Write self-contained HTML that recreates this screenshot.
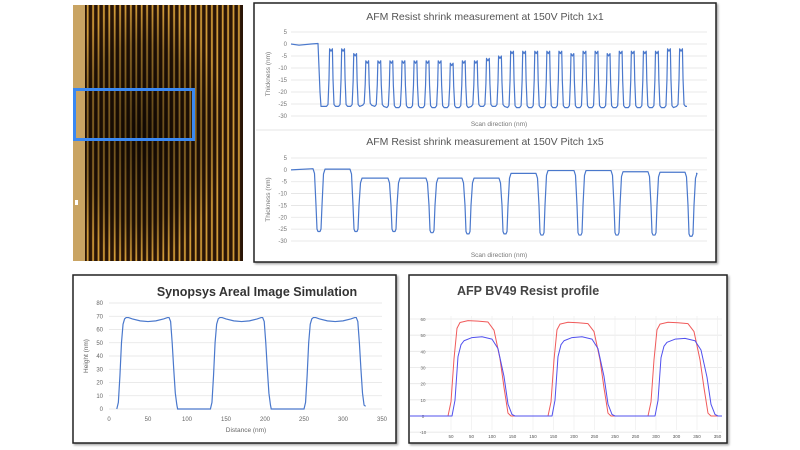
<!DOCTYPE html>
<html><head><meta charset="utf-8"><style>
html,body{margin:0;padding:0;background:#fff;width:800px;height:450px;overflow:hidden;font-family:"Liberation Sans",sans-serif}
</style></head><body>
<svg id="s" width="800" height="450" viewBox="0 0 800 450" xmlns="http://www.w3.org/2000/svg">
<defs>
<pattern id="stripes" x="85" y="0" width="5.4" height="10" patternUnits="userSpaceOnUse">
<rect width="5.4" height="10" fill="#2a1506"/><rect x="1.8" width="1.8" height="10" fill="#d09a38"/>
</pattern>
<radialGradient id="vig" cx="0.4" cy="0.5" r="0.5"><stop offset="0" stop-color="#000" stop-opacity="0.6"/><stop offset="0.7" stop-color="#000" stop-opacity="0.3"/><stop offset="1" stop-color="#000" stop-opacity="0"/></radialGradient>
<filter id="sh"><feDropShadow dx="1.5" dy="1.5" stdDeviation="1" flood-opacity="0.35"/></filter>
</defs>
<g>
<rect x="73" y="5" width="170" height="256" fill="url(#stripes)"/>
<rect x="73" y="5" width="170" height="256" fill="url(#vig)"/>
<rect x="73" y="5" width="12" height="256" fill="#c9a463"/>
<rect x="75" y="200" width="3" height="5" fill="#fff"/>
<rect x="74.5" y="89.5" width="119" height="50" fill="none" stroke="#3a88f2" stroke-width="3"/>
</g>
<rect x="254" y="3" width="462" height="259" fill="#fff" stroke="#222" stroke-width="1.5" filter="url(#sh)"/>
<line x1="256" y1="130" x2="714" y2="130" stroke="#e6e6e6"/>
<rect x="73" y="275" width="323" height="168" fill="#fff" stroke="#222" stroke-width="1.5" filter="url(#sh)"/>
<rect x="409" y="275" width="318" height="168" fill="#fff" stroke="#222" stroke-width="1.5" filter="url(#sh)"/>
<g id="g"></g>
</svg>
<script>
// ---- Chart 1: Pitch 1x1 ----
const p1Peaks=[-3,-3,-5,-8,-8,-8,-8,-8,-8,-8,-9,-8,-8,-7,-6,-4,-4,-4,-4,-4,-5,-4,-4,-5,-4,-4,-4,-4,-3,-3];
const p1Valley=[-26,-26,-26,-25.5,-26,-26.5,-26.5,-26.5,-26.5,-26.5,-26.5,-26.5,-26,-26,-26,-26.5,-26.5,-26.5,-26.5,-26.5,-26.5,-26.5,-26.5,-26.5,-26.5,-26.5,-26.5,-26.5,-26.5,-26];
const p1FirstPeak=40, p1Spacing=12.07, p1Drop=28, p1End=396;
// ---- Chart 2: Pitch 1x5 ----
const p2Dips=[28,65,103,141,177,214,251,289,326,363,400];
const p2Depth=[-26,-26,-26,-26.5,-27,-27,-27.5,-27.5,-27.5,-27.5,-28];
const p2Plateau=[0.5,0.3,-3.5,-3.5,-3.5,-3.5,-1.5,-0.3,-0.3,-0.8,-1,-1.5];
const afmTicks=[5,0,-5,-10,-15,-20,-25,-30];
// ---- Chart 3: Synopsys ----
const synOffsets=[0,120,240];
const synDx=[10,12,14,16,18,20,22,25,30,40,50,60,70,75,77,79,81,83,85,87,88];
const synH=[0,5,25,50,64,68,69,69,68,66.5,66,66.5,68,69,69,66,50,30,12,3,0];
const synXTicks=[0,50,100,150,200,250,300,350];
const synYTicks=[0,10,20,30,40,50,60,70,80];
// ---- Chart 4: AFP ----
const afpRedStarts=[38,138,238];
const afpRedTops=[59,58,58];
const afpBlueStarts=[42,142,245];
const afpBlueTops=[49,49,48];
const afpShapeDx=[0,3,6,9,12,20,30,40,46,52,56,60,63];
const afpRedShape=[0,0.15,0.6,0.92,0.98,1,0.995,0.985,0.9,0.6,0.3,0.03,0];
const afpBlueShape=[0,0.2,0.75,0.9,0.95,0.99,1,0.97,0.85,0.5,0.15,0.02,0];
const afpYTicks=[60,50,40,30,20,10,0];
const afpXLabels=[50,50,100,150,150,150,200,250,250,250,300,300,350,350];

const NS="http://www.w3.org/2000/svg", G=document.getElementById('g');
function el(t,a,txt){const e=document.createElementNS(NS,t);for(const k in a)e.setAttribute(k,a[k]);if(txt!==undefined)e.textContent=txt;G.appendChild(e);return e;}
function lin(d0,d1,r0,r1){return v=>r0+(v-d0)*(r1-r0)/(d1-d0);}
function pathOf(pts,X,Y){return pts.map((p,i)=>(i?'L':'M')+X(p[0]).toFixed(2)+' '+Y(p[1]).toFixed(2)).join(' ');}

function afmAxes(yTop,yBot,title,titleY,labY,pref){
  const Y=lin(5,-30,yTop,yBot), X=lin(0,416,291,707);
  let t=el('text',{x:485,y:titleY,'font-size':10.5,fill:'#555','text-anchor':'middle'},title);
  
  afmTicks.forEach(v=>{
    let l=el('line',{x1:291,x2:707,y1:Y(v),y2:Y(v),stroke:'#e3e3e3','stroke-width':0.8});
    
    let tt=el('text',{x:287,y:Y(v)+2,'font-size':6,fill:'#777','text-anchor':'end'},v);
    
  });
  let yl=el('text',{transform:`translate(270,${(yTop+yBot)/2}) rotate(-90)`,'font-size':6.5,fill:'#777','text-anchor':'middle'},'Thickness (nm)');
  
  let xl=el('text',{x:499,y:labY,'font-size':6.5,fill:'#777','text-anchor':'middle'},'Scan direction (nm)');
  
  return [X,Y];
}
// Chart 1
(function(){
  const [X,Y]=afmAxes(32,116,'AFM Resist shrink measurement at 150V Pitch 1x1',20,126,'pitch1x1');
  const pts=[[0,0],[8,-0.5],[20,0],[p1Drop-1,0.2],[p1Drop+1,-20],[p1Drop+2,-26]];
  p1Peaks.forEach((pk,i)=>{const c=p1FirstPeak+i*p1Spacing,v=p1Valley[i];
    pts.push([c-4.5,v],[c-3,v+0.8],[c-2,(v+pk)/2],[c-1.4,pk+1],[c,pk],[c+1.4,pk+1],[c+2,(v+pk)/2],[c+3,v+0.8],[c+4.5,v]);});
  pts.push([p1End,-26]);
  const p=el('path',{d:pathOf(pts,X,Y),fill:'none',stroke:'#4a78cc','stroke-width':1.2,'stroke-linejoin':'round'});
  
})();
// Chart 2
(function(){
  const [X,Y]=afmAxes(158,241,'AFM Resist shrink measurement at 150V Pitch 1x5',145,257,'pitch1x5');
  const pts=[[0,0]];
  p2Dips.forEach((d,i)=>{const pl=p2Plateau[i],nx=p2Plateau[i+1],v=p2Depth[i];
    pts.push([d-6,pl],[d-4.5,pl-2],[d-3,-15],[d-2,v+1],[d-1,v],[d+1,v],[d+2,v+1],[d+3,-15],[d+4.5,nx-2],[d+6,nx]);});
  pts.push([405,p2Plateau[p2Plateau.length-1]]);
  const p=el('path',{d:pathOf(pts,X,Y),fill:'none',stroke:'#4a78cc','stroke-width':1.2,'stroke-linejoin':'round'});
  
})();
// Chart 3
(function(){
  const X=lin(0,350,109,382),Y=lin(0,80,409,303);
  let t=el('text',{x:257,y:296,'font-size':12.5,'font-weight':'bold',fill:'#333','text-anchor':'middle'},'Synopsys Areal Image Simulation');
  
  synYTicks.forEach(v=>{
    let l=el('line',{x1:109,x2:382,y1:Y(v),y2:Y(v),stroke:'#e3e3e3','stroke-width':0.8});
    
    let tt=el('text',{x:103,y:Y(v)+2,'font-size':6,fill:'#666','text-anchor':'end'},v);
    
  });
  synXTicks.forEach(v=>{let tt=el('text',{x:X(v),y:421,'font-size':6,fill:'#666','text-anchor':'middle'},v);
    });
  let yl=el('text',{transform:'translate(88,356) rotate(-90)','font-size':6.5,fill:'#666','text-anchor':'middle'},'Height (nm)');
  
  let xl=el('text',{x:246,y:432,'font-size':6.5,fill:'#666','text-anchor':'middle'},'Distance (nm)');
  
  const pts=[];
  synOffsets.forEach((o,k)=>{synDx.forEach((dx,j)=>{
    if(k==synOffsets.length-1&&dx>88)return; pts.push([o+dx,synH[j]]);});});
  pts[pts.length-1]=[329,2];
  const p=el('path',{d:pathOf(pts,X,Y),fill:'none',stroke:'#4a78cc','stroke-width':1.2});
  
})();
// Chart 4
(function(){
  const X=lin(0,312,410,722),Y=lin(0,60,416,319);
  let t=el('text',{x:457,y:295,'font-size':12.5,'font-weight':'bold',fill:'#444'},'AFP BV49 Resist profile');
  
  afpYTicks.concat([-10]).forEach(v=>{
    let l=el('line',{x1:410,x2:722,y1:Y(v),y2:Y(v),stroke:'#e6e6e6','stroke-width':0.8});
    
    let tt=el('text',{x:423,y:Y(v)+2,'font-size':4.5,fill:'#666','text-anchor':'middle'},v);
    
  });
  afpXLabels.forEach((v,i)=>{const x=451+i*20.5;
    let l=el('line',{x1:x,x2:x,y1:316,y2:430,stroke:'#f0f0f0','stroke-width':0.8});
    
    let tt=el('text',{x:x,y:438,'font-size':4.5,fill:'#555','text-anchor':'middle'},v);
    });
  function series(starts,tops,shape,color,name){
    const pts=[[0,0]];
    starts.forEach((s,i)=>{afpShapeDx.forEach((dx,j)=>pts.push([s+dx,tops[i]*shape[j]]));});
    pts.push([312,0]);
    const p=el('path',{d:pathOf(pts,X,Y),fill:'none',stroke:color,'stroke-width':1,'stroke-linejoin':'round'});
    
  }
  series(afpRedStarts,afpRedTops,afpRedShape,'#f05a5a','afp-red-series');
  series(afpBlueStarts,afpBlueTops,afpBlueShape,'#5050ee','afp-blue-series');
})();
</script>
</body></html>
